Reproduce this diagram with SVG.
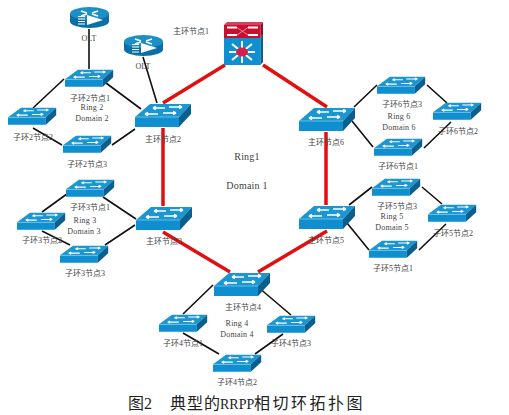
<svg xmlns="http://www.w3.org/2000/svg" width="509" height="415" viewBox="0 0 509 415">
<style>
text{font-family:"Liberation Serif","Noto Sans CJK SC",serif;fill:#444;text-anchor:middle}
.n{font-size:8px}
.r{font-size:8px;letter-spacing:.2px}
.m{font-size:10px;letter-spacing:.2px}
.c{font-size:16px;fill:#222;text-anchor:start}
.k{stroke:#111;stroke-width:1.6;fill:none}
.e{stroke:#e30f0f;stroke-width:3.5;fill:none}
.w{stroke:#fff;stroke-width:1.4;fill:none}
</style>
<defs>
<g id="sw">
<polygon points="0,14 15,1 56,1 44,14" fill="#1a96d3"/>
<rect x="0" y="14" width="44" height="10" fill="#0f8fd0"/>
<path d="M0,14H44" stroke="#7cc8ea" stroke-width=".8" fill="none"/>
<polygon points="44,14 56,1 56,11 44,24" fill="#0b5f8e"/>
<path class="w" d="M18,5H30M18,5l3,-1.500M18,5l3,1.500M34,4H47M47,4l-3,-1.500M47,4l-3,1.500M10,11H23M10,11l3,-1.500M10,11l3,1.500M28,10H41M41,10l-3,-1.500M41,10l-3,1.500"/>
</g>
<g id="rt">
<path d="M0,6.500V14.500A19.500,6.500 0 0 0 39,14.500V6.500Z" fill="#0b6fa5"/>
<ellipse cx="19.500" cy="6.500" rx="19.500" ry="6.500" fill="#1b8fc6"/>
<path class="w" d="M11,4L17,6M28,4L22,6M11,9L17,7M28,9L22,7"/>
<polygon points="17,8 33,13 17,18" fill="#fff"/>
<path d="M8,9.500H15M8,12H15M8,14.500H15M8,17H15" stroke="#fff" stroke-width="1.200" fill="none"/>
</g>
<g id="core">
<polygon points="0,3 3,0 39,0 36.500,3" fill="#d4415f"/>
<rect x="0" y="3" width="36.500" height="13" fill="#c8102e"/>
<rect x="0" y="16" width="36.500" height="27" fill="#0f8fd0"/>
<polygon points="36.500,3 39,0 39,13 36.500,16" fill="#8e0f28"/>
<polygon points="36.500,16 39,13 39,40 36.500,43" fill="#0b5f8e"/>
<path d="M3,5.500H13M24,5.500H34M3,13H13M24,13H34" stroke="#fff" stroke-width="2" fill="none"/>
<path d="M13,5.500L24,13M13,13L24,5.500" stroke="#f3a0b0" stroke-width="0.800" fill="none"/>
<path d="M18,30L18,19M18,30L18,41M18,30L5,30M18,30L31,30M18,30L8,22M18,30L28,22M18,30L8,38M18,30L28,38" stroke="#fff" stroke-width="2" fill="none"/>
<ellipse cx="18" cy="30" rx="6" ry="4.500" fill="#d81e4a"/>
</g>
</defs>
<rect width="509" height="415" fill="#fff"/>
<g id="connectors">
<path class="k" d="M89,29V69M143,57L157,103M64,79L33,108M106,83L141,109M33,128L62,145M112,145L135,129"/>
<path class="k" d="M71,191L42,212M103,197L136,219M42,231L70,245M105,245L135,225"/>
<path class="k" d="M213,285L183,314M183,333L219,354M258,287L291,315M283,334L255,354"/>
<path class="k" d="M349,205L372,187M347,223L369,250M422,187L442,204M446,224L419,250"/>
<path class="k" d="M354,107L377,85M352,121L373,147M427,85L447,103M451,122L424,148"/>
<path class="e" d="M225,65L163,103M263,65L327,107M163,128V206M326,132V205M163,232L230,272M327,231L258,272"/>
</g>
<g id="core1"><use href="#core" x="224" y="22"/><text class="n" x="191" y="34">主环节点1</text></g>
<g id="olt1"><use href="#rt" x="70" y="7"/><text class="n" x="89" y="41">OLT</text></g>
<g id="olt2"><use href="#rt" x="124" y="35"/><text class="n" x="143" y="69">OLT</text></g>
<g id="main2"><use href="#sw" transform="translate(135,103)"/><text class="n" x="163" y="142">主环节点2</text></g>
<g id="main3"><use href="#sw" transform="translate(136,206)"/><text class="n" x="164" y="244">主环节点3</text></g>
<g id="main4"><use href="#sw" transform="translate(214,272)"/><text class="n" x="243" y="310">主环节点4</text></g>
<g id="main5"><use href="#sw" transform="translate(299,205)"/><text class="n" x="326" y="243">主环节点5</text></g>
<g id="main6"><use href="#sw" transform="translate(299,107)"/><text class="n" x="326" y="145">主环节点6</text></g>
<g id="sub21"><use href="#sw" transform="translate(65,69) scale(.86,.74)"/><text class="n" x="90" y="101">子环2节点1</text></g>
<g id="sub22"><use href="#sw" transform="translate(8,107) scale(.86,.74)"/><text class="n" x="33" y="140">子环2节点2</text></g>
<g id="sub23"><use href="#sw" transform="translate(63,135) scale(.86,.74)"/><text class="n" x="87" y="167">子环2节点3</text></g>
<g id="sub31"><use href="#sw" transform="translate(66,179) scale(.86,.74)"/><text class="n" x="90" y="210">子环3节点1</text></g>
<g id="sub32"><use href="#sw" transform="translate(17,212) scale(.86,.74)"/><text class="n" x="42" y="243">子环3节点2</text></g>
<g id="sub33"><use href="#sw" transform="translate(60,245) scale(.86,.74)"/><text class="n" x="85" y="276">子环3节点3</text></g>
<g id="sub41"><use href="#sw" transform="translate(159,314) scale(.86,.74)"/><text class="n" x="183" y="346">子环4节点1</text></g>
<g id="sub42"><use href="#sw" transform="translate(213,354) scale(.86,.74)"/><text class="n" x="237" y="385">子环4节点2</text></g>
<g id="sub43"><use href="#sw" transform="translate(267,315) scale(.86,.74)"/><text class="n" x="291" y="346">子环4节点3</text></g>
<g id="sub51"><use href="#sw" transform="translate(369,240) scale(.86,.74)"/><text class="n" x="393" y="271">子环5节点1</text></g>
<g id="sub52"><use href="#sw" transform="translate(428,204) scale(.86,.74)"/><text class="n" x="453" y="236">子环5节点2</text></g>
<g id="sub53"><use href="#sw" transform="translate(372,178) scale(.86,.74)"/><text class="n" x="397" y="209">子环5节点3</text></g>
<g id="sub61"><use href="#sw" transform="translate(374,138) scale(.86,.74)"/><text class="n" x="398" y="169">子环6节点1</text></g>
<g id="sub62"><use href="#sw" transform="translate(433,102) scale(.86,.74)"/><text class="n" x="458" y="134">子环6节点2</text></g>
<g id="sub63"><use href="#sw" transform="translate(377,76) scale(.86,.74)"/><text class="n" x="402" y="107">子环6节点3</text></g>
<g id="labels">
<text class="r" x="92" y="110">Ring 2</text><text class="r" x="92" y="121">Domain 2</text>
<text class="r" x="85" y="223">Ring 3</text><text class="r" x="84" y="234">Domain 3</text>
<text class="r" x="237" y="326">Ring 4</text><text class="r" x="237" y="337">Domain 4</text>
<text class="r" x="392" y="219">Ring 5</text><text class="r" x="392" y="230">Domain 5</text>
<text class="r" x="399" y="119">Ring 6</text><text class="r" x="399" y="130">Domain 6</text>
<text class="m" x="247" y="160">Ring1</text><text class="m" x="247" y="189">Domain 1</text>
<text class="c" x="128" y="409">图2</text>
<text class="c" x="170" y="409"><tspan letter-spacing="1">典型的</tspan><tspan x="220" font-size="14">RRPP</tspan><tspan x="254" letter-spacing="2.500">相切环拓扑图</tspan></text>
</g>
</svg>
